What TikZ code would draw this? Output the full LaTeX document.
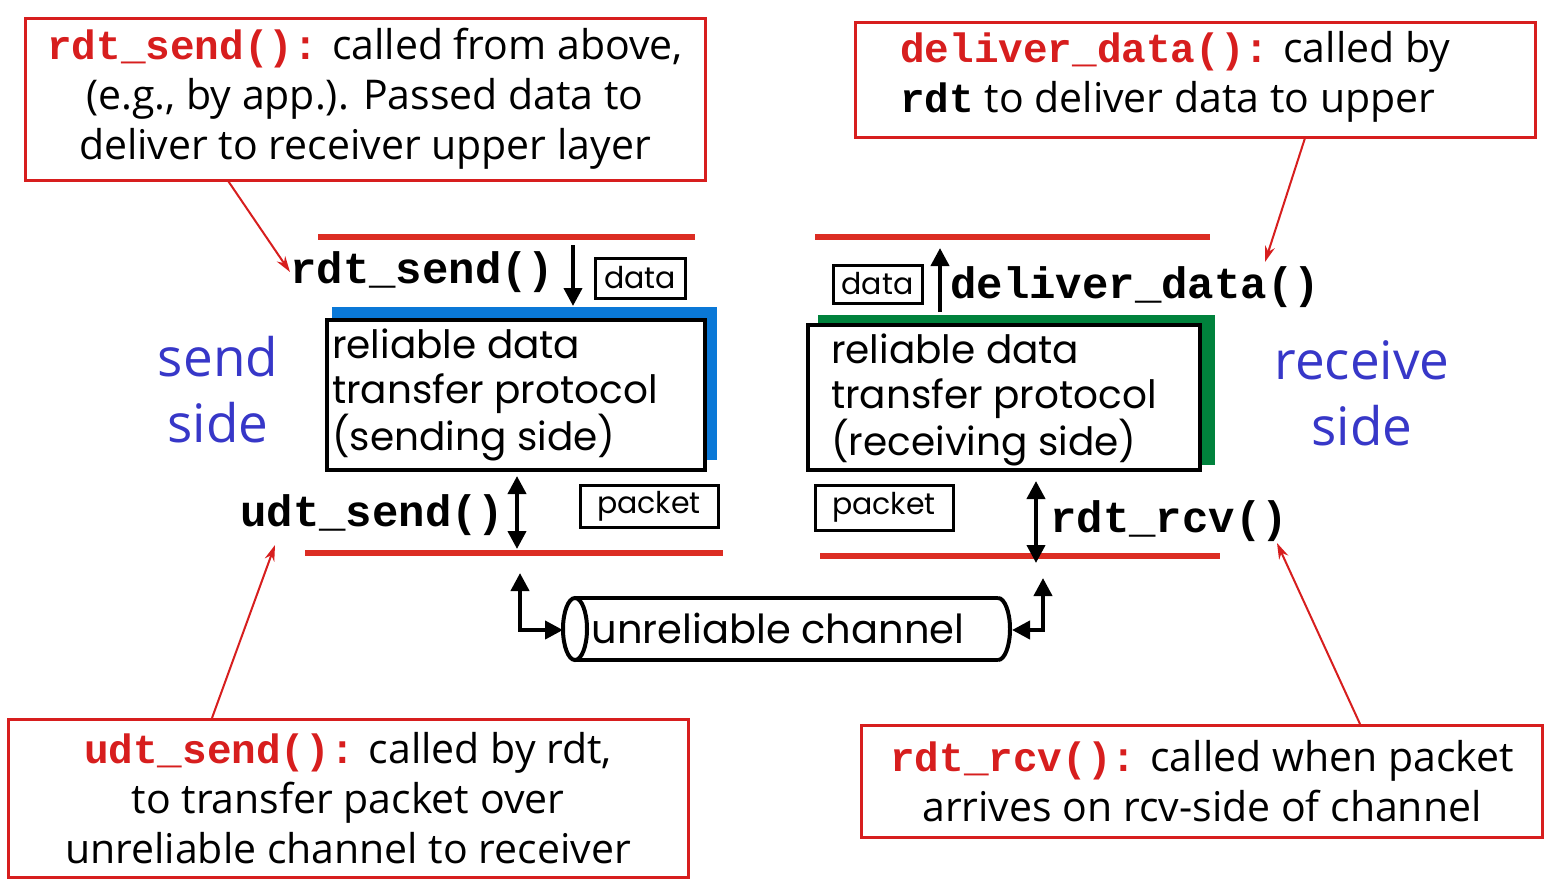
\documentclass[tikz,border=0pt]{standalone}
\usepackage{fontspec}
\setmainfont{Open Sans}
\newfontfamily\gothic{Poppins}
\setmonofont{Liberation Mono}
\usetikzlibrary{arrows.meta}
\definecolor{annred}{RGB}{215,30,30}
\definecolor{linered}{RGB}{220,45,35}
\definecolor{sideblue}{RGB}{55,55,200}
\definecolor{shblue}{RGB}{10,120,215}
\definecolor{shgreen}{RGB}{0,130,60}
\newcommand\rfn[1]{{\ttfamily\bfseries\color{annred}#1}}
\newcommand\bfn[1]{{\ttfamily\bfseries #1}}
\tikzset{
  annbox/.style={draw=annred, line width=3pt, fill=white, inner sep=0pt,
    font=\fontsize{41}{50}\selectfont},
  layerline/.style={draw=linered, line width=6pt},
  protobox/.style={draw=black, line width=4pt, fill=white},
  prototext/.style={anchor=west, align=left, inner sep=0pt, font=\gothic\fontsize{39}{45}\selectfont},
  smallbox/.style={draw=black, line width=3pt, inner sep=0pt, font=\gothic\fontsize{30}{32}\selectfont},
  fname/.style={inner sep=0pt, font=\ttfamily\bfseries\fontsize{44}{45}\selectfont},
  sidetext/.style={inner sep=0pt, align=center, text=sideblue, font=\fontsize{53}{66}\selectfont},
  blk/.style={draw=black, line width=4pt, -{Triangle[length=18pt,width=18pt]}},
  blk2/.style={draw=black, line width=4pt, {Triangle[length=18pt,width=18pt]}-{Triangle[length=18pt,width=18pt]}},
  redarrow/.style={draw=annred, line width=2pt, -{Stealth[length=16pt,width=10pt]}},
}
\begin{document}
\begin{tikzpicture}[x=1pt,y=-1pt]
\useasboundingbox[fill=white] (0,0) rectangle (1547,879);

% annotation boxes
\node[annbox, minimum width=680pt, minimum height=162pt, align=center] (a1) at (365,99)
  {\rfn{rdt\_send():} called from above,\\(e.g., by app.). Passed data to\\deliver to receiver upper layer};
\node[annbox, minimum width=680pt, minimum height=115pt] (a2) at (1195,79.5) {};
\node[anchor=west, align=left, inner sep=0pt, font=\fontsize{41}{50}\selectfont] (a2t) at (900,77)
  {\rfn{deliver\_data():} called by\\\bfn{rdt} to deliver data to upper};
\node[annbox, minimum width=680pt, minimum height=158pt, align=center] (a3) at (348,798)
  {\rfn{udt\_send():} called by rdt,\\to transfer packet over\\unreliable channel to receiver};
\node[annbox, minimum width=681pt, minimum height=112pt, align=center] (a4) at (1202,781)
  {\rfn{rdt\_rcv():} called when packet\\arrives on rcv-side of channel};

% layer lines
\coordinate (s1a) at (318,237); \coordinate (s1b) at (695,237);
\coordinate (r1a) at (815,237); \coordinate (r1b) at (1210,237);
\coordinate (s2a) at (305,553); \coordinate (s2b) at (723,553);
\coordinate (r2a) at (820,556); \coordinate (r2b) at (1220,556);
\draw[layerline] (s1a) -- (s1b);
\draw[layerline] (r1a) -- (r1b);
\draw[layerline] (s2a) -- (s2b);
\draw[layerline] (r2a) -- (r2b);

% sender protocol box
\fill[shblue] (332,307) rectangle (717,460);
\draw[protobox] (327,320) rectangle (705,470);
\node[prototext] (st) at (332,395) {reliable data\\transfer protocol\\(sending side)};

% receiver protocol box
\fill[shgreen] (818,315) rectangle (1215,465);
\draw[protobox] (808,325) rectangle (1200,470);
\node[prototext] (rt) at (831,400) {reliable data\\transfer protocol\\(receiving side)};

% side labels
\node[sidetext] (send) at (218,390) {send\\side};
\node[sidetext] (recv) at (1362,393) {receive\\side};

% function names
\node[fname, anchor=west] (rs) at (290,272) {rdt\_send()};
\node[fname, anchor=west] (dd) at (950,287) {deliver\_data()};
\node[fname, anchor=west] (us) at (240,515) {udt\_send()};
\node[fname, anchor=west] (rr) at (1050,521) {rdt\_rcv()};

% small boxes
\node[smallbox, minimum width=90pt, minimum height=40pt] (d1) at (640,278) {data};
\node[smallbox, minimum width=89pt, minimum height=38pt] (d2) at (877.5,284) {data};
\node[smallbox, minimum width=138pt, minimum height=42pt] (p1) at (649,506) {packet};
\node[smallbox, minimum width=138pt, minimum height=45pt] (p2) at (884,507.5) {packet};

% black arrows
\draw[blk] (573,245) -- (573,306);
\draw[blk] (940,312) -- (940,248);
\draw[blk2] (517,476) -- (517,549);
\draw[blk2] (1036,481) -- (1036,563);

% unreliable channel
\draw[line width=4pt] (575,598) -- (998,598);
\draw[line width=4pt] (575,660) -- (998,660);
\draw[line width=4pt, fill=white] (575,629) ellipse [x radius=12, y radius=31];
\draw[line width=4pt] (998,598) arc[start angle=-90, end angle=90, x radius=12, y radius=31];
\node[inner sep=0pt, font=\gothic\fontsize{40}{42}\selectfont] (ch) at (778,628) {unreliable channel};
\coordinate (cl) at (563,630);
\coordinate (cr) at (1012,630);
\coordinate (lk) at (520,630);
\coordinate (rk) at (1043,630);
\draw[blk2] (520,573) -- (lk) -- (cl);
\draw[blk2] (cr) -- (rk) -- (1043,578);

% red pointer arrows
\draw[redarrow] (a1.south west) ++(205,0) -- (rs.west);
\draw[redarrow] (1305,138) -- (1265,262);
\draw[redarrow] (212,718) -- (275,545);
\draw[redarrow] (1360,724) -- (1277,543);
\end{tikzpicture}
\end{document}
